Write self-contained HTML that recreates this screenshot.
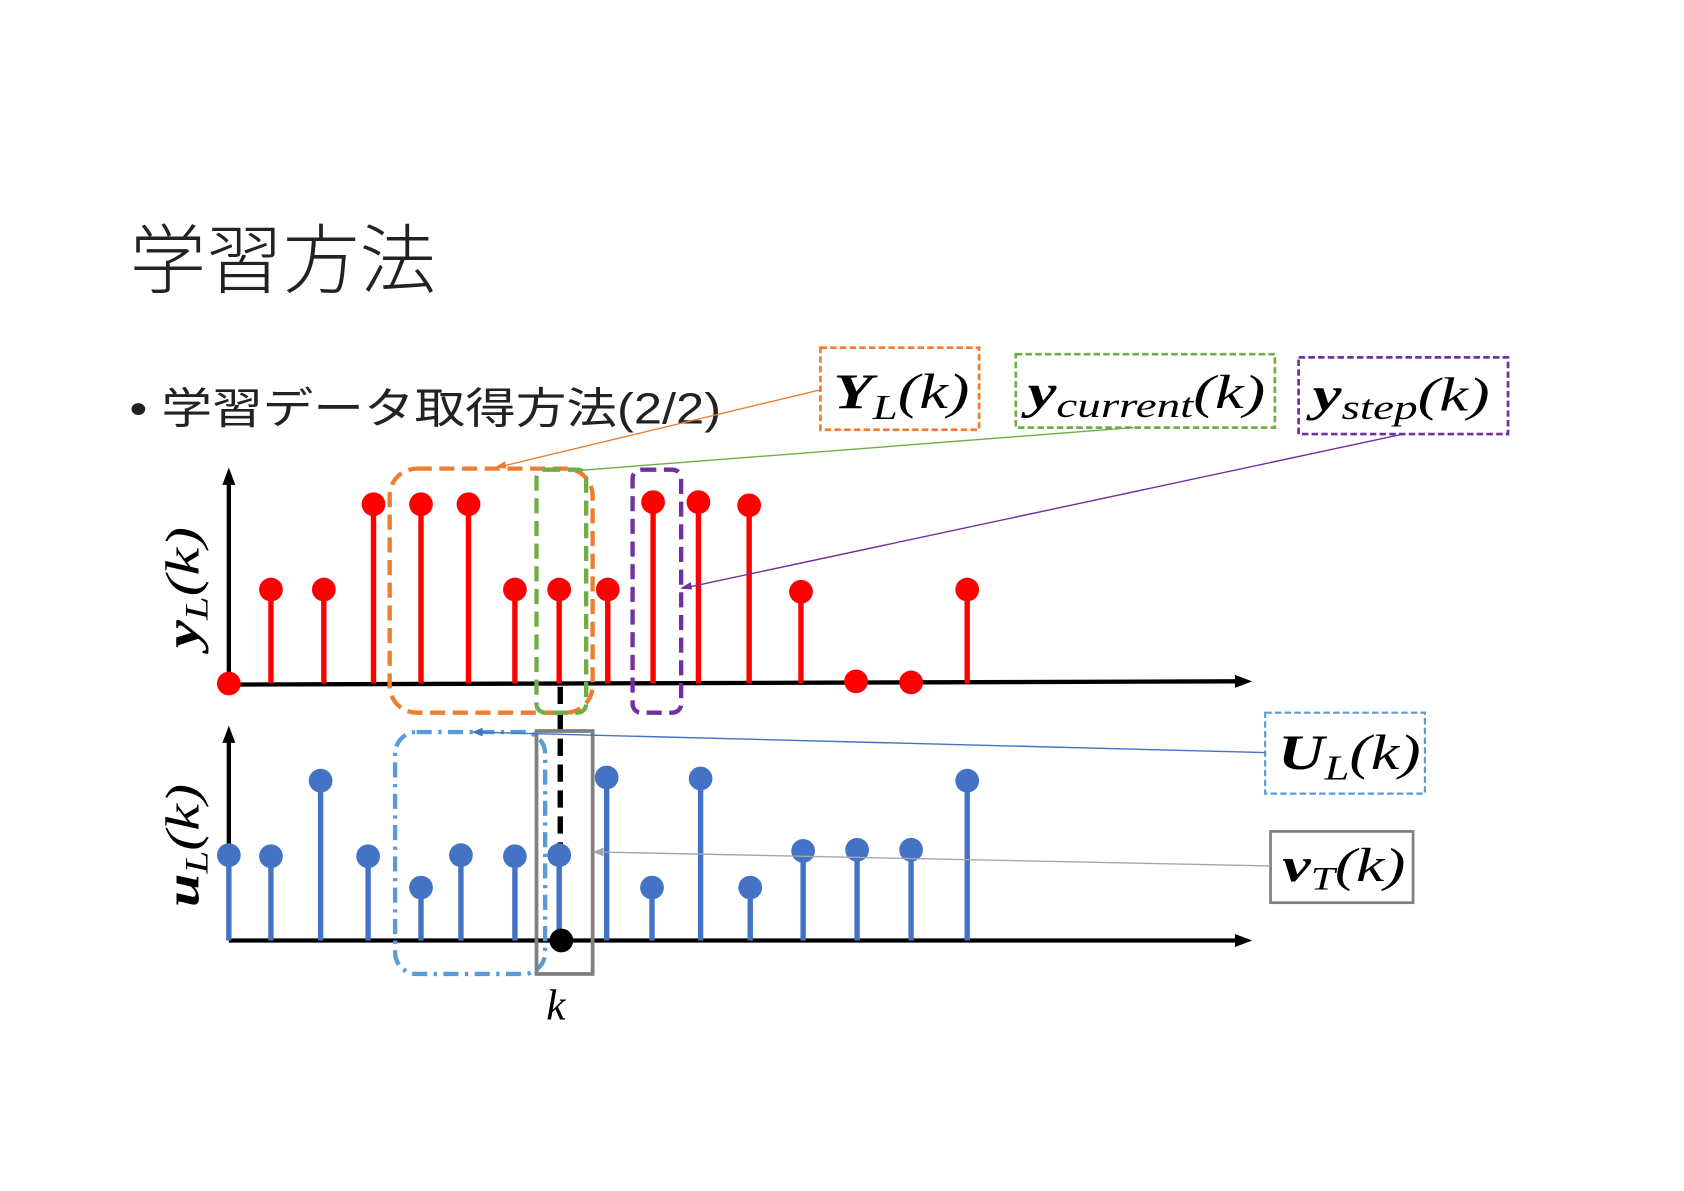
<!DOCTYPE html>
<html><head><meta charset="utf-8"><style>
html,body{margin:0;padding:0;background:#fff;}
svg{display:block;}
.m{font-family:"Liberation Serif","DejaVu Serif",serif;font-style:italic;}
</style></head><body>
<svg width="1684" height="1191" viewBox="0 0 1560 1103" preserveAspectRatio="none" xmlns="http://www.w3.org/2000/svg">
<rect width="1560" height="1103" fill="#fff"/>
<text x="120" y="266" font-family="'Liberation Sans','Noto Sans CJK JP',sans-serif" font-size="70" fill="#222" font-weight="300" textLength="284" lengthAdjust="spacingAndGlyphs">学習方法</text>
<text x="120" y="392" font-family="'Liberation Sans','Noto Sans CJK JP',sans-serif" font-size="40" fill="#222" textLength="548" lengthAdjust="spacingAndGlyphs">• 学習データ取得方法(2/2)</text>

<!-- axes -->
<g stroke="#000" stroke-width="4">
<line x1="212" y1="633" x2="212" y2="445"/>
<line x1="212" y1="634" x2="1148" y2="631"/>
<line x1="212" y1="871" x2="212" y2="683"/>
<line x1="212" y1="871" x2="1148" y2="871"/>
</g>
<g fill="#000">
<polygon points="212,433 206,449 218,449"/>
<polygon points="1160,631 1144,625 1144,637"/>
<polygon points="212,672 206,688 218,688"/>
<polygon points="1160,871 1144,865 1144,877"/>
</g>
<line x1="519" y1="636" x2="519" y2="790" stroke="#000" stroke-width="5" stroke-dasharray="16,8"/>

<!-- red stems -->
<g stroke="#f00" stroke-width="5">
<line x1="251" y1="633" x2="251" y2="546"/><line x1="300" y1="633" x2="300" y2="546"/>
<line x1="346" y1="633" x2="346" y2="467"/><line x1="390" y1="633" x2="390" y2="467"/>
<line x1="434" y1="633" x2="434" y2="467"/><line x1="477" y1="633" x2="477" y2="546"/>
<line x1="518" y1="633" x2="518" y2="546"/><line x1="563" y1="633" x2="563" y2="546"/>
<line x1="605" y1="633" x2="605" y2="465"/><line x1="647" y1="633" x2="647" y2="465"/>
<line x1="694" y1="633" x2="694" y2="468"/><line x1="742" y1="633" x2="742" y2="548"/>
<line x1="896" y1="633" x2="896" y2="546"/>
</g>
<g fill="#f00">
<circle cx="212" cy="633" r="11"/><circle cx="251" cy="546" r="11"/><circle cx="300" cy="546" r="11"/>
<circle cx="346" cy="467" r="11"/><circle cx="390" cy="467" r="11"/><circle cx="434" cy="467" r="11"/>
<circle cx="477" cy="546" r="11"/><circle cx="518" cy="546" r="11"/><circle cx="563" cy="546" r="11"/>
<circle cx="605" cy="465" r="11"/><circle cx="647" cy="465" r="11"/><circle cx="694" cy="468" r="11"/>
<circle cx="742" cy="548" r="11"/><circle cx="793" cy="631" r="11"/><circle cx="844" cy="632" r="11"/>
<circle cx="896" cy="546" r="11"/>
</g>

<!-- blue stems -->
<g stroke="#4472C4" stroke-width="5">
<line x1="212" y1="871" x2="212" y2="792"/><line x1="251" y1="871" x2="251" y2="793"/>
<line x1="297" y1="871" x2="297" y2="723"/><line x1="341" y1="871" x2="341" y2="793"/>
<line x1="390" y1="871" x2="390" y2="822"/><line x1="427" y1="871" x2="427" y2="792"/>
<line x1="477" y1="871" x2="477" y2="793"/><line x1="518" y1="871" x2="518" y2="792"/>
<line x1="562" y1="871" x2="562" y2="720"/><line x1="604" y1="871" x2="604" y2="822"/>
<line x1="649" y1="871" x2="649" y2="721"/><line x1="695" y1="871" x2="695" y2="822"/>
<line x1="744" y1="871" x2="744" y2="788"/><line x1="794" y1="871" x2="794" y2="787"/>
<line x1="844" y1="871" x2="844" y2="787"/><line x1="896" y1="871" x2="896" y2="723"/>
</g>
<g fill="#4472C4">
<circle cx="212" cy="792" r="11"/><circle cx="251" cy="793" r="11"/><circle cx="297" cy="723" r="11"/>
<circle cx="341" cy="793" r="11"/><circle cx="390" cy="822" r="11"/><circle cx="427" cy="792" r="11"/>
<circle cx="477" cy="793" r="11"/><circle cx="518" cy="792" r="11"/><circle cx="562" cy="720" r="11"/>
<circle cx="604" cy="822" r="11"/><circle cx="649" cy="721" r="11"/><circle cx="695" cy="822" r="11"/>
<circle cx="744" cy="788" r="11"/><circle cx="794" cy="787" r="11"/><circle cx="844" cy="787" r="11"/>
<circle cx="896" cy="723" r="11"/>
</g>
<circle cx="520" cy="871" r="11" fill="#000"/>

<!-- dashed selection boxes -->
<rect x="361" y="434" width="188" height="226" rx="25" fill="none" stroke="#ED7D31" stroke-width="4" stroke-dasharray="14,7"/>
<rect x="497" y="435" width="46" height="225" rx="8" fill="none" stroke="#70AD47" stroke-width="4" stroke-dasharray="14,7"/>
<rect x="586" y="435" width="45" height="225" rx="8" fill="none" stroke="#7030A0" stroke-width="4" stroke-dasharray="14,7"/>
<rect x="366" y="678" width="139" height="224" rx="20" fill="none" stroke="#5B9BD5" stroke-width="4" stroke-dasharray="14,6,3,6"/>
<rect x="497" y="677" width="52" height="225" fill="none" stroke="#808080" stroke-width="3.5"/>

<!-- label boxes -->
<rect x="760" y="322" width="147" height="76" fill="#fff" stroke="#ED7D31" stroke-width="2.5" stroke-dasharray="6,3"/>
<rect x="941" y="328" width="240" height="68" fill="#fff" stroke="#70AD47" stroke-width="2.5" stroke-dasharray="6,3"/>
<rect x="1203" y="331" width="194" height="71" fill="#fff" stroke="#7030A0" stroke-width="2.5" stroke-dasharray="6,3"/>
<rect x="1172" y="660" width="148" height="75" fill="#fff" stroke="#5B9BD5" stroke-width="2" stroke-dasharray="6,3"/>
<rect x="1177" y="770" width="132" height="66" fill="#fff" stroke="#808080" stroke-width="2.5"/>

<!-- connector lines -->
<g stroke-width="1.3" fill="none">
<line x1="760" y1="361" x2="460" y2="433" stroke="#ED7D31"/>
<line x1="1050" y1="396" x2="532" y2="436" stroke="#70AD47"/>
<line x1="1300" y1="402" x2="632" y2="545" stroke="#7030A0"/>
<line x1="1172" y1="697" x2="440" y2="678" stroke="#4472C4"/>
<line x1="1177" y1="802" x2="552" y2="789" stroke="#A6A6A6"/>
</g>
<polygon points="458,433 468,427 469,434" fill="#ED7D31"/>
<polygon points="630,545 640,539 641,546" fill="#7030A0"/>
<polygon points="437,678 447,674 447,682" fill="#4472C4"/>
<polygon points="549,789 559,785 559,793" fill="#A6A6A6"/>

<!-- label texts -->
<text class="m" x="772" y="378" font-size="46" textLength="126" lengthAdjust="spacingAndGlyphs"><tspan font-weight="bold">Y</tspan><tspan font-size="32" dy="10">L</tspan><tspan dy="-10">(k)</tspan></text>
<text class="m" x="952" y="378" font-size="44" textLength="220" lengthAdjust="spacingAndGlyphs"><tspan font-weight="bold">y</tspan><tspan font-size="32" dy="8">current</tspan><tspan dy="-8">(k)</tspan></text>
<text class="m" x="1216" y="380" font-size="44" textLength="164" lengthAdjust="spacingAndGlyphs"><tspan font-weight="bold">y</tspan><tspan font-size="32" dy="8">step</tspan><tspan dy="-8">(k)</tspan></text>
<text class="m" x="1184" y="712" font-size="46" textLength="132" lengthAdjust="spacingAndGlyphs"><tspan font-weight="bold">U</tspan><tspan font-size="32" dy="10">L</tspan><tspan dy="-10">(k)</tspan></text>
<text class="m" x="1188" y="816" font-size="44" textLength="114" lengthAdjust="spacingAndGlyphs"><tspan font-weight="bold">v</tspan><tspan font-size="30" dy="8">T</tspan><tspan dy="-8">(k)</tspan></text>
<text class="m" x="506" y="944" font-size="40">k</text>

<text class="m" transform="translate(184,600) rotate(-90)" font-size="44" textLength="112" lengthAdjust="spacingAndGlyphs"><tspan font-weight="bold">y</tspan><tspan font-size="30" dy="8">L</tspan><tspan dy="-8">(k)</tspan></text>
<text class="m" transform="translate(184,840) rotate(-90)" font-size="44" textLength="114" lengthAdjust="spacingAndGlyphs"><tspan font-weight="bold">u</tspan><tspan font-size="30" dy="8">L</tspan><tspan dy="-8">(k)</tspan></text>
</svg>
</body></html>
